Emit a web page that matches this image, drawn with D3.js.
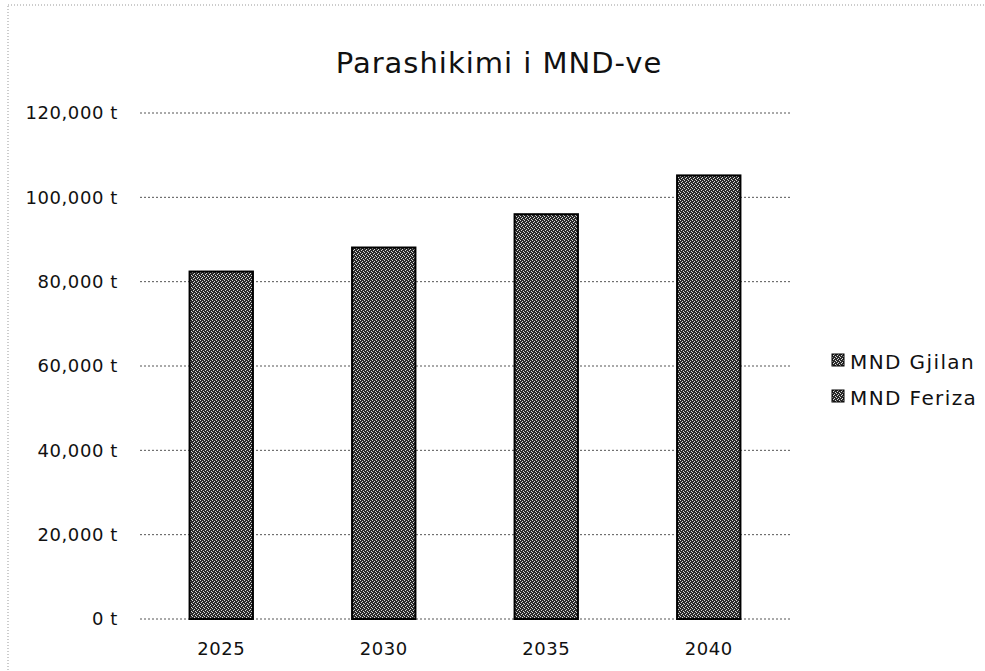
<!DOCTYPE html>
<html>
<head>
<meta charset="utf-8">
<script src="https://cdn.jsdelivr.net/npm/d3@7"></script>
<style>
  body { margin: 0; background: #fff; }
  svg { display: block; font-family: "DejaVu Sans", "Noto Sans", sans-serif; }
</style>
</head>
<body>
<div class="box"></div>
<script>
// data
const years = ["2025", "2030", "2035", "2040"];
const totals = [82400, 88100, 96000, 105200];
const seriesNames = ["MND Gjilan", "MND Feriza"];
const yTicks = [0, 20000, 40000, 60000, 80000, 100000, 120000];

const width = 985, height = 671;
const margin = { top: 113, right: 195, bottom: 52, left: 140 };

const svg = d3.create("svg")
    .attr("width", width)
    .attr("height", height);

// speckled texture like the scanned bars
const defs = svg.append("defs");
const pat = defs.append("pattern")
    .attr("id", "speckle")
    .attr("patternUnits", "userSpaceOnUse")
    .attr("width", 4).attr("height", 4);
pat.append("rect").attr("width", 4).attr("height", 4).attr("fill", "#2a2a2a");
[[0, 0], [2, 1], [1, 2], [3, 3]].forEach(p => {
    pat.append("rect").attr("x", p[0]).attr("y", p[1])
        .attr("width", 1).attr("height", 1).attr("fill", "#d8d8d8");
});

// faint dotted chart border
svg.append("rect")
    .attr("x", 8).attr("y", 5)
    .attr("width", width + 20).attr("height", height + 20)
    .attr("fill", "none")
    .attr("stroke", "#999")
    .attr("stroke-width", 1)
    .attr("stroke-dasharray", "1,2");

const x = d3.scaleBand(years, [margin.left, width - margin.right])
    .paddingInner(0.61)
    .paddingOuter(0.305);

const y = d3.scaleLinear([0, 120000], [height - margin.bottom, margin.top]);

// gridlines
svg.append("g")
    .selectAll("line")
    .data(yTicks)
    .join("line")
    .attr("x1", margin.left)
    .attr("x2", width - margin.right)
    .attr("y1", d => y(d))
    .attr("y2", d => y(d))
    .attr("stroke", "#555")
    .attr("stroke-width", 1)
    .attr("stroke-dasharray", "2,2");

// y axis labels
const yAxis = svg.append("g")
    .attr("transform", `translate(${margin.left},0)`)
    .call(d3.axisLeft(y).tickValues(yTicks).tickSize(0).tickPadding(22)
        .tickFormat(d => d3.format(",")(d) + " t"));
yAxis.select(".domain").remove();
yAxis.selectAll("text").attr("font-size", 18).attr("fill", "#111")
    .attr("letter-spacing", 0.6)
    .attr("font-family", "'DejaVu Sans', sans-serif");

// bars
svg.append("g")
    .selectAll("rect")
    .data(totals)
    .join("rect")
    .attr("x", (d, i) => x(years[i]))
    .attr("y", d => y(d))
    .attr("width", x.bandwidth())
    .attr("height", d => y(0) - y(d))
    .attr("fill", "url(#speckle)")
    .attr("stroke", "#000")
    .attr("stroke-width", 2);

// x axis labels
const xAxis = svg.append("g")
    .attr("transform", `translate(0,${height - margin.bottom})`)
    .call(d3.axisBottom(x).tickSize(0).tickPadding(23));
xAxis.select(".domain").remove();
xAxis.selectAll("text").attr("font-size", 18).attr("fill", "#111")
    .attr("letter-spacing", 0.6)
    .attr("font-family", "'DejaVu Sans', sans-serif");

// title
svg.append("text")
    .attr("x", 499)
    .attr("y", 73)
    .attr("text-anchor", "middle")
    .attr("font-size", 29)
    .attr("letter-spacing", 1)
    .attr("fill", "#111")
    .text("Parashikimi i MND-ve");

// legend
const legend = svg.append("g")
    .selectAll("g")
    .data(seriesNames)
    .join("g")
    .attr("transform", (d, i) => `translate(832,${369 + i * 36})`);
legend.append("rect")
    .attr("x", 0).attr("y", -15)
    .attr("width", 12).attr("height", 12)
    .attr("fill", "url(#speckle)")
    .attr("stroke", "#000");
legend.append("text")
    .attr("x", 18)
    .attr("y", 0)
    .attr("font-size", 20)
    .attr("letter-spacing", 1.4)
    .attr("fill", "#111")
    .text(d => d);

document.querySelector(".box").appendChild(svg.node());
</script>
</body>
</html>
